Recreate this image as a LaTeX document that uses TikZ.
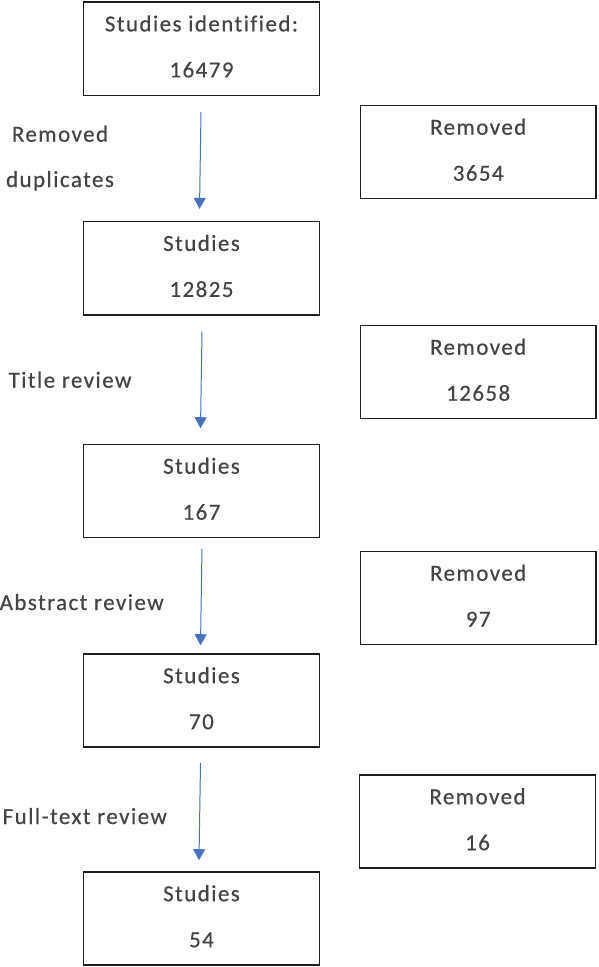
\documentclass[tikz,border=0pt]{standalone}
\usepackage{fontspec}
\setmainfont[LetterSpace=6.2,FakeBold=0.4,Ligatures={NoCommon}]{Carlito}
\usetikzlibrary{arrows.meta}
\definecolor{txtgray}{HTML}{444444}
\definecolor{arrblue}{HTML}{4472C4}
\begin{document}
\begin{tikzpicture}[x=1pt,y=-1pt,
  boxnode/.style={draw=black!88, line width=1.4pt, minimum width=235.7pt, minimum height=93.2pt, inner sep=0pt},
  txt/.style={inner sep=0pt, text=txtgray, font=\fontsize{23}{27}\selectfont},
  arr/.style={draw=arrblue, line width=1pt, -{Triangle[width=12pt,length=11pt]}}]
\useasboundingbox (0,0) rectangle (598,967);
% main column
\node[boxnode] (b1) at (201.5,48.7) {};
\node[boxnode] (b2) at (201.5,268.2) {};
\node[boxnode] (b3) at (201.5,491) {};
\node[boxnode] (b4) at (201.5,700.5) {};
\node[boxnode] (b5) at (201.5,918.5) {};
% removed column
\node[boxnode] (r1) at (478.2,152) {};
\node[boxnode] (r2) at (478.2,372) {};
\node[boxnode] (r3) at (478.2,598) {};
\node[boxnode] (r4) at (477.5,821.5) {};
% box texts
\node[txt, anchor=base] (b1a) at ([yshift=-30pt]b1.north) {Studies identified:};
\node[txt, anchor=base] (b1b) at ([yshift=-76pt]b1.north) {16479};
\node[txt, anchor=base] (b2a) at ([yshift=-30pt]b2.north) {Studies};
\node[txt, anchor=base] (b2b) at ([yshift=-76pt]b2.north) {12825};
\node[txt, anchor=base] (b3a) at ([yshift=-30pt]b3.north) {Studies};
\node[txt, anchor=base] (b3b) at ([yshift=-76pt]b3.north) {167};
\node[txt, anchor=base] (b4a) at ([yshift=-30pt]b4.north) {Studies};
\node[txt, anchor=base] (b4b) at ([yshift=-76pt]b4.north) {70};
\node[txt, anchor=base] (b5a) at ([yshift=-30pt]b5.north) {Studies};
\node[txt, anchor=base] (b5b) at ([yshift=-76pt]b5.north) {54};
\node[txt, anchor=base] (r1a) at ([yshift=-30pt]r1.north) {Removed};
\node[txt, anchor=base] (r1b) at ([yshift=-76pt]r1.north) {3654};
\node[txt, anchor=base] (r2a) at ([yshift=-30pt]r2.north) {Removed};
\node[txt, anchor=base] (r2b) at ([yshift=-76pt]r2.north) {12658};
\node[txt, anchor=base] (r3a) at ([yshift=-30pt]r3.north) {Removed};
\node[txt, anchor=base] (r3b) at ([yshift=-76pt]r3.north) {97};
\node[txt, anchor=base] (r4a) at ([yshift=-30pt]r4.north) {Removed};
\node[txt, anchor=base] (r4b) at ([yshift=-76pt]r4.north) {16};
% side labels
\node[txt, anchor=base] (l1a) at (60,141.7) {Removed};
\node[txt, anchor=base] (l1b) at (60,187) {duplicates};
\node[txt, anchor=base west] (l2) at (8.4,387.7) {Title review};
\node[txt, anchor=base west] (l3) at (-0.5,610) {Abstract review};
\node[txt, anchor=base west] (l4) at (2.5,824) {Full-text review};
% arrows
\draw[arr] ([xshift=-0.5pt,yshift=-16pt]b1.south) -- ([xshift=-2pt,yshift=12pt]b2.north);
\draw[arr] ([xshift=0.5pt,yshift=-16pt]b2.south) -- ([xshift=-1pt,yshift=15.5pt]b3.north);
\draw[arr] ([xshift=0.5pt,yshift=-10.5pt]b3.south) -- ([xshift=-1pt,yshift=8pt]b4.north);
\draw[arr] ([xshift=-1pt,yshift=-15pt]b4.south) -- ([xshift=-2.5pt,yshift=11pt]b5.north);
\end{tikzpicture}
\end{document}
